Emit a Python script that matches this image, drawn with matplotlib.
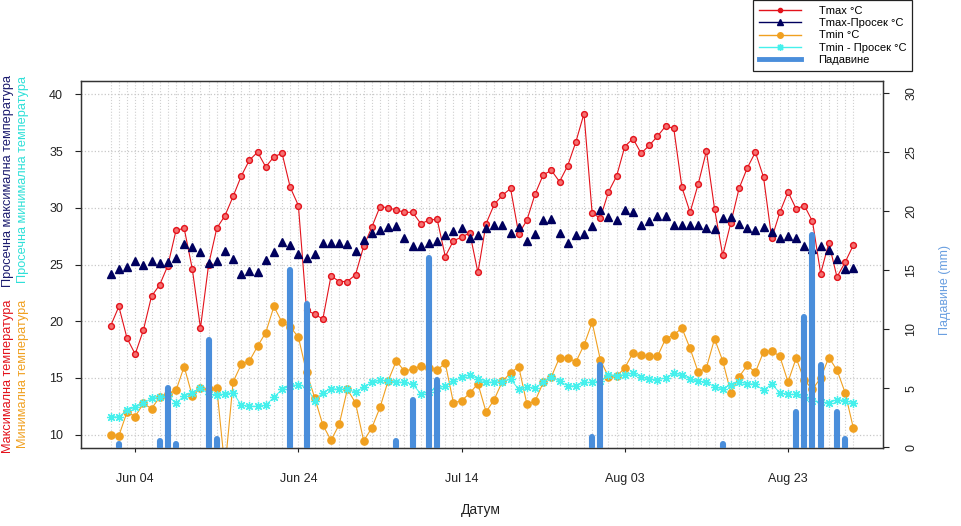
import numpy as np
import pandas as pd
import matplotlib
matplotlib.use('Agg')
import matplotlib.pyplot as plt
from matplotlib.lines import Line2D

plt.rcParams['font.family'] = ['Liberation Sans', 'DejaVu Sans']

# daily values, 1 Jun - 31 Aug
dates = pd.date_range('2024-06-01', '2024-08-31', freq='D')

tmax = [19.6, 21.3, 18.5, 17.1, 19.2, 22.2, 23.2, 24.9, 28.0, 28.2,
        24.6, 19.4, 25.0, 28.2, 29.3, 31.0, 32.8, 34.2, 34.9, 33.6,
        34.5, 34.8, 31.8, 30.2, 21.0, 20.6, 20.2, 24.0, 23.5, 23.5,
        24.1, 26.6, 28.3, 30.1, 30.0, 29.8, 29.6, 29.6, 28.6, 28.9,
        29.0, 25.7, 27.1, 27.4, 27.8, 24.3, 28.6, 30.3, 31.1, 31.7,
        27.7, 28.9, 31.2, 32.9, 33.3, 32.3, 33.7, 35.8, 38.3, 29.5,
        29.1, 31.4, 32.8, 35.4, 36.1, 34.8, 35.5, 36.3, 37.2, 37.0,
        31.8, 29.6, 32.1, 35.0, 29.9, 25.8, 28.7, 31.7, 33.5, 34.9,
        32.7, 27.3, 29.6, 31.4, 29.9, 30.2, 28.8, 24.2, 26.9, 23.9,
        25.2, 26.7]

tmax_avg = [24.2, 24.6, 24.8, 25.3, 25.0, 25.3, 25.1, 25.2, 25.6, 26.8,
            26.5, 26.1, 25.1, 25.3, 26.2, 25.5, 24.2, 24.45, 24.3, 25.4,
            26.1, 27.0, 26.7, 25.9, 25.6, 25.9, 26.9, 26.9, 26.9, 26.8,
            26.2, 27.2, 27.8, 28.0, 28.3, 28.4, 27.3, 26.6, 26.6, 26.9,
            27.1, 27.6, 27.95, 28.2, 27.3, 27.6, 28.2, 28.5, 28.5, 27.8,
            28.3, 27.1, 27.7, 28.9, 29.0, 27.8, 26.9, 27.6, 27.7, 28.4,
            29.8, 29.2, 28.9, 29.8, 29.6, 28.5, 28.8, 29.3, 29.3, 28.5,
            28.5, 28.5, 28.5, 28.2, 28.1, 29.1, 29.2, 28.6, 28.2, 28.0,
            28.3, 27.9, 27.3, 27.5, 27.3, 26.6, 26.4, 26.6, 26.3, 25.5,
            24.6, 24.7]

tmin = [10.0, 9.9, 12.0, 11.6, 12.75, 12.3, 13.3, 13.6, 13.9, 16.0,
        13.4, 14.1, 14.0, 14.1, 7.0, 14.65, 16.2, 16.5, 17.8, 19.0,
        21.3, 19.9, 19.5, 18.6, 15.5, 13.25, 10.85, 9.5, 10.9, 14.0,
        12.8, 9.45, 10.6, 12.4, 14.75, 16.5, 15.6, 15.8, 16.05, 15.9,
        15.7, 16.3, 12.8, 13.0, 13.65, 14.5, 12.0, 13.1, 14.7, 15.45,
        16.0, 12.7, 12.95, 14.6, 15.1, 16.8, 16.8, 16.4, 17.9, 19.9,
        16.6, 15.1, 15.15, 15.9, 17.2, 17.0, 16.9, 16.9, 18.45, 18.8,
        19.4, 17.6, 15.5, 15.9, 18.45, 16.5, 13.7, 15.1, 16.1, 15.5,
        17.3, 17.4, 16.9, 14.65, 16.75, 14.8, 14.0, 15.0, 16.8, 15.7,
        13.7, 10.6]

tmin_avg = [11.6, 11.55, 12.2, 12.4, 12.75, 13.2, 13.3, 13.4, 12.8, 13.4,
            13.7, 14.1, 13.6, 13.5, 13.6, 13.7, 12.6, 12.5, 12.5, 12.6,
            13.3, 14.0, 14.3, 14.4, 14.2, 13.0, 13.7, 14.05, 14.0, 14.0,
            13.75, 14.2, 14.6, 14.8, 14.75, 14.65, 14.6, 14.45, 13.6, 13.8,
            14.1, 14.3, 14.7, 15.05, 15.3, 14.9, 14.6, 14.65, 14.65, 14.9,
            14.0, 14.2, 14.1, 14.65, 15.1, 14.7, 14.3, 14.3, 14.6, 14.6,
            14.7, 15.3, 15.2, 15.3, 15.4, 15.1, 14.9, 14.85, 15.0, 15.4,
            15.3, 14.9, 14.7, 14.65, 14.2, 14.05, 14.4, 14.65, 14.5, 14.45,
            13.9, 14.45, 13.7, 13.55, 13.55, 13.3, 13.0, 12.9, 12.8, 13.1,
            13.0, 12.8]

precip = [0, 0.3, 0, 0, 0, 0, 0.5, 5.0, 0.3, 0,
          0, 0, 9.05, 0.7, 0, 0, 0, 0, 0, 0,
          0, 0, 15.0, 0, 12.1, 0, 0, 0, 0, 0,
          0, 0, 0, 0, 0, 0.55, 0, 4.0, 0, 16.0,
          5.65, 0, 0, 0, 0, 0, 0, 0, 0, 0,
          0, 0, 0, 0, 0, 0, 0, 0, 0, 0.85,
          7.0, 0, 0, 0, 0, 0, 0, 0, 0, 0,
          0, 0, 0, 0, 0, 0.3, 0, 0, 0, 0,
          0, 0, 0, 0, 3.0, 11.05, 18.0, 7.0, 0, 3.0,
          0.7, 0]

tick_dates = pd.date_range('2024-06-04', periods=5, freq='20D')

c_red = '#e3121b'
c_navy = '#00005e'
c_orange = '#f0a020'
c_cyan = '#45f0ec'
c_bar = '#4a8edb'

fig = plt.figure(figsize=(9.62, 5.26), dpi=100)
ax = fig.add_axes([81/962, 1 - 448.3/526, (883 - 81)/962, (448.3 - 80.7)/526])

pad = pd.Timedelta(days=3.64)
ax.set_xlim(dates[0] - pad, dates[-1] + pad)
ax.set_ylim(8.8, 41.2)

# dotted grid, one vertical line per day
ax.set_xticks(dates, minor=True)
ax.set_xticks(tick_dates)
ax.xaxis.set_major_formatter(matplotlib.dates.DateFormatter('%b %d'))
ax.grid(which='both', axis='x', color='#d0d0d0', linestyle=':', linewidth=0.8)
ax.set_yticks(np.arange(10, 41, 5))
ax.grid(which='major', axis='y', color='#c8c8c8', linestyle=':', linewidth=0.9)
ax.set_axisbelow(True)

ax.plot(dates, tmin, color=c_orange, lw=0.8, marker='o', ms=5.2, mec=c_orange, mfc=c_orange)
ax.plot(dates, tmin_avg, color=c_cyan, lw=0.7, marker=(8, 2, 0), ms=6.5, mew=0.9)
ax.plot(dates, tmax, color=c_red, lw=0.8, marker='o', ms=4.2, mfc='#f47070', mec=c_red, mew=1.0)
ax.plot(dates, tmax_avg, linestyle='none', marker='^', ms=5.6, color=c_navy)

ax.tick_params(axis='x', which='minor', length=0)
ax.tick_params(axis='x', which='major', length=3, pad=15, labelsize=9, colors='#222222')
ax.tick_params(axis='y', length=4, pad=9, labelsize=9, colors='#222222')
for s in ax.spines.values():
    s.set_color('#333333')
    s.set_linewidth(1.0)

ax2 = ax.twinx()
ax2.set_ylim(-0.1, 31.07)
pdates = [d for d, p in zip(dates, precip) if p > 0]
pvals = [p for p in precip if p > 0]
bars = ax2.vlines(pdates, 0, pvals, colors=c_bar, linewidth=4.4)
bars.set_capstyle('round')
ax2.set_yticks(np.arange(0, 31, 5))
ax2.tick_params(axis='y', length=4, pad=12, labelsize=9, colors='#222222', labelrotation=90)
for lab in ax2.get_yticklabels():
    lab.set_va('center')
for s in ax2.spines.values():
    s.set_color('#333333')

# axis titles
fig.text(481/962, 1 - 510/526, 'Датум', ha='center', va='center', fontsize=10, color='#222222')
fig.text(945/962, 1 - 290/526, 'Падавине (mm)', rotation=90, ha='center', va='center',
         fontsize=9, color='#6a9fe0')
fig.text(8.3/962, 1 - 453/526, 'Максимална температура', rotation=90, ha='center', va='bottom',
         fontsize=9.2, color=c_red)
fig.text(8.3/962, 1 - 287/526, 'Просечна максимална температура', rotation=90, ha='center',
         va='bottom', fontsize=9.2, color='#1a1a6e')
fig.text(23.3/962, 1 - 448/526, 'Минимална температура', rotation=90, ha='center', va='bottom',
         fontsize=9.2, color=c_orange)
fig.text(23.3/962, 1 - 283/526, 'Просечна минимална температура', rotation=90, ha='center',
         va='bottom', fontsize=9.2, color='#2fe0d8')

handles = [
    Line2D([], [], color=c_red, lw=1, marker='o', ms=3),
    Line2D([], [], color=c_navy, lw=1, marker='^', ms=4),
    Line2D([], [], color=c_orange, lw=1, marker='o', ms=4),
    Line2D([], [], color=c_cyan, lw=1, marker=(8, 2, 0), ms=5),
    Line2D([], [], color=c_bar, lw=3.5),
]
labels = ['Tmax °C', 'Tmax-Просек °C', 'Tmin °C', 'Tmin - Просек °C', 'Падавине']
leg = fig.legend(handles, labels, loc='upper left', bbox_to_anchor=(753/962, 1.0),
                 fontsize=8, frameon=True, fancybox=False, edgecolor='#222222',
                 framealpha=1, handlelength=3.8, handletextpad=1.6, labelspacing=0.22,
                 borderpad=0.5, borderaxespad=0)
leg.get_frame().set_linewidth(0.9)

fig.savefig('out.png', dpi=100)
